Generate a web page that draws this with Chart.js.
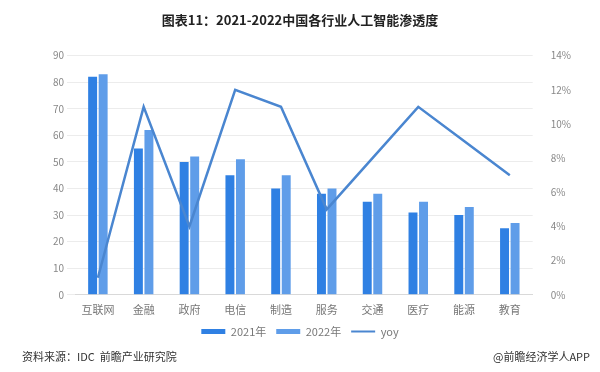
<!DOCTYPE html>
<html>
<head>
<meta charset="utf-8">
<script src="https://cdn.jsdelivr.net/npm/chart.js@4"></script>
<style>
  html, body { margin: 0; padding: 0; background: #fff; }
  #wrap { width: 600px; height: 372px; position: relative; }
</style>
</head>
<body>
<div id="wrap"><canvas id="myChart"></canvas></div>
<script>
const categories = ['互联网', '金融', '政府', '电信', '制造', '服务', '交通', '医疗', '能源', '教育'];
const values2021 = [82, 55, 50, 45, 40, 38, 35, 31, 30, 25];
const values2022 = [83, 62, 52, 51, 45, 40, 38, 35, 33, 27];
const yoy = [1, 11, 4, 12, 11, 5, 8, 11, 9, 7];

const fontFamily = '"Microsoft YaHei", "Noto Sans CJK SC", sans-serif';

const footerText = {
    id: 'footerText',
    afterDraw(chart) {
        const ctx = chart.ctx;
        ctx.save();
        ctx.font = '11px ' + fontFamily;
        ctx.fillStyle = '#333';
        ctx.textBaseline = 'middle';
        ctx.textAlign = 'left';
        ctx.fillText('资料来源：IDC  前瞻产业研究院', 22, 357);
        ctx.textAlign = 'right';
        ctx.fillText('@前瞻经济学人APP', 590, 357);
        ctx.restore();
    }
};

const ctx = document.getElementById('myChart').getContext('2d');
const myChart = new Chart(ctx, {
    data: {
        labels: categories,
        datasets: [
            {
                type: 'bar',
                label: '2021年',
                data: values2021,
                backgroundColor: '#2F80E3',
                yAxisID: 'y',
                barPercentage: 0.85,
                categoryPercentage: 0.46,
                order: 2
            },
            {
                type: 'bar',
                label: '2022年',
                data: values2022,
                backgroundColor: '#5F9DE9',
                yAxisID: 'y',
                barPercentage: 0.85,
                categoryPercentage: 0.46,
                order: 2
            },
            {
                type: 'line',
                label: 'yoy',
                data: yoy,
                borderColor: '#4A86D0',
                backgroundColor: '#4A86D0',
                borderWidth: 2.5,
                pointRadius: 0,
                tension: 0,
                yAxisID: 'y1',
                order: 1
            }
        ]
    },
    options: {
        responsive: true,
        maintainAspectRatio: false,
        animation: false,
        layout: {
            padding: { left: 19, right: 19, top: 0, bottom: 25 }
        },
        scales: {
            x: {
                grid: { display: false },
                border: { color: '#d9d9d9' },
                ticks: {
                    color: '#777',
                    padding: 0,
                    font: { size: 11, family: fontFamily }
                }
            },
            y: {
                position: 'left',
                min: 0,
                max: 90,
                afterFit: scale => { scale.width = 56; },
                ticks: {
                    stepSize: 10,
                    color: '#888',
                    font: { size: 10, family: fontFamily }
                },
                grid: { color: '#ececec' },
                border: { display: false }
            },
            y1: {
                position: 'right',
                min: 0,
                max: 14,
                ticks: {
                    stepSize: 2,
                    color: '#888',
                    padding: 10,
                    font: { size: 10, family: fontFamily },
                    callback: v => v + '%'
                },
                grid: { display: false },
                border: { display: false }
            }
        },
        plugins: {
            title: {
                display: true,
                text: '图表11：2021-2022中国各行业人工智能渗透度',
                color: '#222',
                font: { size: 13, weight: 'bold', family: fontFamily },
                padding: { top: 12, bottom: 28 }
            },
            legend: {
                display: true,
                position: 'bottom',
                labels: {
                    usePointStyle: true,
                    pointStyleWidth: 24,
                    boxHeight: 5,
                    color: '#777',
                    padding: 10,
                    font: { size: 11, family: fontFamily },
                    sort: (a, b) => a.datasetIndex - b.datasetIndex,
                    generateLabels(chart) {
                        const items = Chart.defaults.plugins.legend.labels.generateLabels(chart);
                        items.forEach(item => {
                            const ds = chart.data.datasets[item.datasetIndex];
                            if (ds.type === 'line') {
                                item.pointStyle = 'line';
                                item.lineWidth = 2;
                                item.strokeStyle = ds.borderColor;
                            } else {
                                item.pointStyle = 'rect';
                                item.lineWidth = 0;
                            }
                        });
                        return items;
                    }
                }
            },
            tooltip: { enabled: false }
        }
    },
    plugins: [footerText]
});
</script>
</body>
</html>
